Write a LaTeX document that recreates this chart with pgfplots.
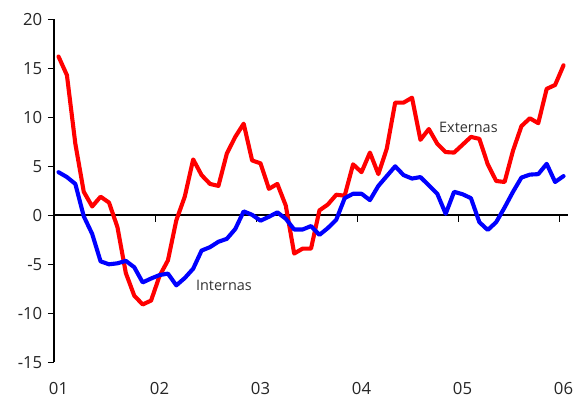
\documentclass[border=0pt]{standalone}
\usepackage{fontspec}
\setmainfont{Open Sans}
\usepackage{pgfplots}
\usepackage{pgfplotstable}
\pgfplotsset{compat=1.18}

\pgfplotstableread{
i ext int
0 16.2 4.4
1 14.3 3.9
2 7.3 3.2
3 2.4 -0.1
4 0.9 -1.9
5 1.9 -4.7
6 1.3 -5.0
7 -1.2 -4.9
8 -5.9 -4.65
9 -8.2 -5.3
10 -9.1 -6.85
11 -8.7 -6.45
12 -6.2 -6.1
13 -4.6 -5.95
14 -0.5 -7.15
15 1.9 -6.4
16 5.7 -5.45
17 4.1 -3.6
18 3.2 -3.25
19 3.0 -2.7
20 6.3 -2.4
21 8.0 -1.4
22 9.35 0.4
23 5.6 0.05
24 5.3 -0.55
25 2.7 -0.15
26 3.2 0.3
27 1.0 -0.35
28 -3.9 -1.45
29 -3.4 -1.45
30 -3.4 -1.1
31 0.5 -2.0
32 1.1 -1.3
33 2.1 -0.45
34 2.0 1.75
35 5.2 2.2
36 4.4 2.2
37 6.4 1.55
38 4.2 3.0
39 6.8 4.0
40 11.5 5.0
41 11.5 4.1
42 12.0 3.75
43 7.7 3.9
44 8.8 3.05
45 7.3 2.2
46 6.45 0.15
47 6.4 2.4
48 7.2 2.15
49 8.0 1.75
50 7.8 -0.7
51 5.2 -1.5
52 3.5 -0.7
53 3.4 0.8
54 6.6 2.4
55 9.1 3.85
56 9.9 4.15
57 9.4 4.2
58 12.9 5.25
59 13.3 3.4
60 15.3 4.0
}\datatable

\begin{document}
\begin{tikzpicture}
\path[use as bounding box] (-54.3bp,-39.7bp) rectangle (522.7bp,362.3bp);
\begin{axis}[
  scale only axis,
  width=513.7bp, height=343bp,
  xmin=2001, xmax=2006.086,
  ymin=-15, ymax=20,
  axis y line=left,
  axis x line=middle,
  axis line style={-, line width=1.8bp, black},
  hide obscured x ticks=false,
  hide obscured y ticks=false,
  xtick={2002,2003,2004,2005,2006},
  xticklabels={},
  ytick={-15,-10,...,20},
  tick align=outside,
  major tick length=6.5bp,
  tick style={line width=1.5bp, black},
  yticklabel style={font=\fontsize{16.8}{18}\selectfont, text=black!85, xshift=-2bp},
  /pgf/number format/assume math mode=true,
  clip=false,
]
\addplot[red, line width=4.1bp, line join=round, line cap=round]
  table[x expr={2001+(\thisrow{i}+0.5)/12}, y=ext] {\datatable};
\addplot[blue, line width=4.1bp, line join=round, line cap=round]
  table[x expr={2001+(\thisrow{i}+0.5)/12}, y=int] {\datatable};
\node[font=\fontsize{14.5}{16}\selectfont, text=black!80] at (axis cs:2005.10,9.0) {Externas};
\node[font=\fontsize{14.5}{16}\selectfont, text=black!80] at (axis cs:2002.68,-7.2) {Internas};
\end{axis}
\begin{axis}[
  scale only axis,
  width=513.7bp, height=343bp,
  xmin=2001, xmax=2006.086,
  ymin=-15, ymax=20,
  axis x line=bottom,
  axis y line=none,
  x axis line style={draw=none},
  xtick={2001.0417,2002.0417,2003.0417,2004.0417,2005.0417,2006.0417},
  xticklabels={01,02,03,04,05,06},
  major tick length=0pt,
  xtick style={draw=none},
  xticklabel style={font=\fontsize{16.8}{18}\selectfont, text=black!85, yshift=-17bp},
]
\end{axis}
\end{tikzpicture}
\end{document}
